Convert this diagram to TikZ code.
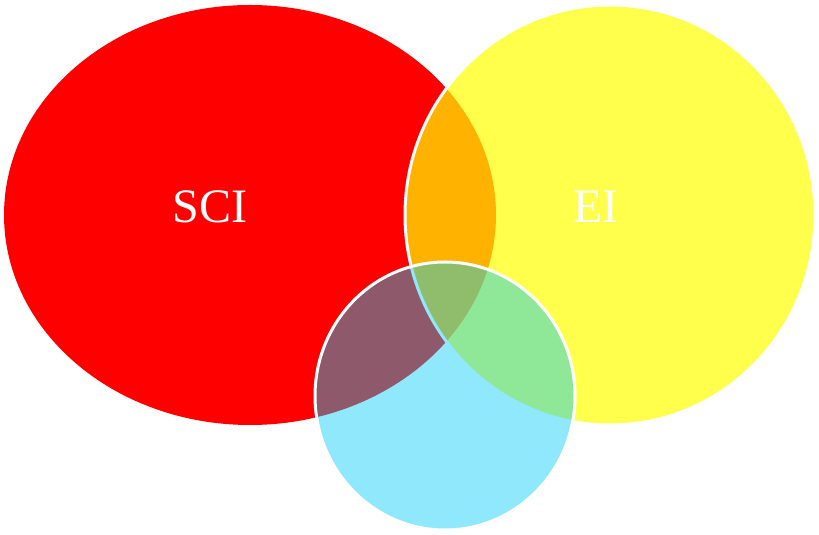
\documentclass[tikz,border=0pt]{standalone}
\usepackage{fontspec}
\setmainfont{Liberation Serif}
\usepackage{tikz}
\usepackage{xcolor}
\definecolor{SciRed}{HTML}{FF0000}
\definecolor{EiYellow}{HTML}{FFFF00}
\definecolor{ThirdCyan}{HTML}{00CBF8}
\tikzset{
  setlabel/.style={text=white,font=\fontsize{48}{58}\selectfont,inner sep=0pt}
}

\begin{document}
\begin{tikzpicture}[x=1pt,y=1pt]
  \useasboundingbox (0,0) rectangle (819,535);
  \fill[SciRed] (250,320) ellipse [x radius=246,y radius=210];
  \filldraw[fill=EiYellow,fill opacity=0.7,draw=white,line width=3pt] (610,320) ellipse [x radius=205,y radius=210];
  \filldraw[fill=ThirdCyan,fill opacity=0.44,draw=white,line width=3pt] (445,139) ellipse [x radius=130,y radius=134];
  \node[setlabel] (sci) at (210,328) {SCI};
  \node[setlabel] (ei) at (596,328) {EI};
\end{tikzpicture}
\end{document}
